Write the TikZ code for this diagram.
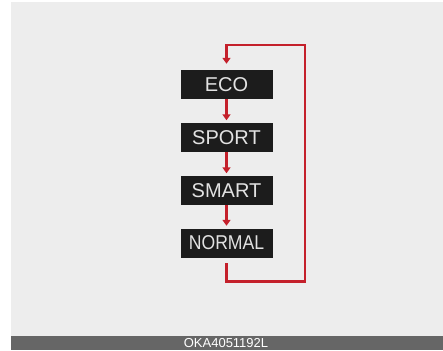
\documentclass[tikz,border=0pt]{standalone}
\usepackage{fontspec}
\setmainfont{Liberation Sans}
\usetikzlibrary{arrows.meta}
\definecolor{bggray}{HTML}{EDEDED}
\definecolor{bargray}{HTML}{666666}
\definecolor{boxblack}{HTML}{1C1C1C}
\definecolor{modetext}{HTML}{E2E2E2}
\definecolor{loopred}{HTML}{C4202B}
\begin{document}
\begin{tikzpicture}[x=1pt,y=-1pt,
  modebox/.style={fill=boxblack, minimum width=92pt, minimum height=29pt, inner sep=0pt,
    text=modetext, font=\fontsize{20}{20}\selectfont},
  redline/.style={draw=loopred, line width=2.8pt},
  redarrow/.style={redline, -{Triangle[width=8pt,length=6pt]}}]
\useasboundingbox (0,0) rectangle (443,350);
\fill[white] (0,0) rectangle (443,350);
\fill[bggray] (11,2) rectangle (443,336);
\fill[bargray] (11,336) rectangle (443,350);
\node[text=white, font=\fontsize{13}{13}\selectfont, anchor=base] (code) at (226,347) {OKA4051192L};

\node[modebox] (eco) at (226.5,84.5) {ECO};
\node[modebox] (sport) at (226.5,137.5) {SPORT};
\node[modebox] (smart) at (226.5,190.5) {SMART};
\node[modebox] (normal) at (226.5,243) {\scalebox{0.88}[1]{NORMAL}};

\draw[redarrow, shorten >=2.5pt] (eco.south) -- (sport.north);
\draw[redarrow, shorten >=2.5pt] (sport.south) -- (smart.north);
\draw[redarrow, shorten >=2.5pt] (smart.south) -- (normal.north);

\coordinate (c1) at (226.5,281.5);
\coordinate (c2) at (305,281.5);
\coordinate (c3) at (305,45);
\coordinate (c4) at (226.5,45);
\draw[redarrow, shorten <=5.5pt, shorten >=6pt, line join=miter]
  (normal.south) -- (c1) -- (c2) -- (c3) -- (c4) -- (eco.north);
\end{tikzpicture}
\end{document}
